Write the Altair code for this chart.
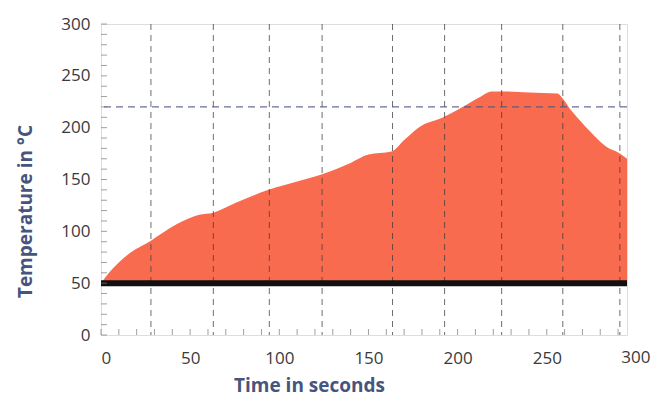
import altair as alt
import pandas as pd

# Temperature profile (time in s, temperature in °C)
time_s = [0, 4.5, 14.6, 28, 42.6, 55, 63, 75, 94, 110, 124, 140, 150, 163, 170, 178,
          192, 205, 212, 219, 224, 240, 256, 259, 264, 268, 275, 283, 291, 295]
temp_c = [50, 60, 77, 91, 107, 116, 118, 127, 140, 148, 155, 166, 174, 177, 188, 200,
          210, 222, 229, 235, 235, 234, 233, 228, 216, 208, 195, 182, 175, 170]
base_temp = 50
ref_temp = 220
vlines = [28, 63, 94.4, 124, 163.5, 192.7, 224.7, 259, 291]
x_ticks = [0, 50, 100, 150, 200, 250, 300]
y_ticks = [0, 50, 100, 150, 200, 250, 300]
minor_x = list(range(0, 300, 10))
minor_y = list(range(0, 301, 10))
x_max = 295
y_max = 300

W, H = 526, 311
FONT = "Open Sans"
LABEL_COLOR = "#3a3a3a"
TITLE_COLOR = "#45557d"
LABEL_SIZE = 17
TITLE_SIZE = 19

df = pd.DataFrame({"t": time_s, "temp": temp_c})
df["base"] = base_temp

xs = alt.Scale(domain=[0, x_max], nice=False, zero=False)
ys = alt.Scale(domain=[0, y_max], nice=False)

area = alt.Chart(df).mark_area(color="#f96b4f", interpolate="monotone", opacity=1).encode(
    x=alt.X("t:Q", scale=xs,
            axis=alt.Axis(values=x_ticks, title="Time in seconds", grid=False, domain=False,
                          ticks=False, tickSize=0, labelPadding=15, labelFont=FONT,
                          labelFontSize=LABEL_SIZE, labelColor=LABEL_COLOR, titleFont=FONT,
                          titleFontSize=TITLE_SIZE, titleFontWeight="bold", titleColor=TITLE_COLOR,
                          titleX=208, titleY=50, titleBaseline="middle")),
    y=alt.Y("temp:Q", scale=ys,
            axis=alt.Axis(values=y_ticks, title="Temperature in °C", grid=False, domain=False,
                          ticks=False, tickSize=0, labelPadding=11, labelFont=FONT,
                          labelFontSize=LABEL_SIZE, labelColor=LABEL_COLOR, titleFont=FONT,
                          titleFontSize=TITLE_SIZE, titleFontWeight="bold", titleColor=TITLE_COLOR,
                          titleX=-76, titleY=187, titleBaseline="middle")),
    y2="base:Q",
)

base_df = pd.DataFrame({"t": [0], "t2": [x_max], "v": [base_temp]})
base_line = alt.Chart(base_df).mark_rule(color="#111111", strokeWidth=6).encode(
    x=alt.X("t:Q", scale=xs), x2="t2:Q", y=alt.Y("v:Q", scale=ys))

vl_df = pd.DataFrame({"t": vlines})
vgrid = alt.Chart(vl_df).mark_rule(color="#3c3c3c", strokeWidth=1, strokeDash=[6, 5],
                                   opacity=0.75).encode(x=alt.X("t:Q", scale=xs))

ref_df = pd.DataFrame({"v": [ref_temp]})
hline = alt.Chart(ref_df).mark_rule(color="#4a5580", strokeWidth=1.2, strokeDash=[7, 5],
                                    opacity=0.85).encode(y=alt.Y("v:Q", scale=ys))

mx_df = pd.DataFrame({"t": minor_x})
mticks_x = alt.Chart(mx_df).mark_tick(color="#777777", thickness=1, size=6, yOffset=-3).encode(
    x=alt.X("t:Q", scale=xs), y=alt.value(H))

my_df = pd.DataFrame({"v": minor_y})
mticks_y = alt.Chart(my_df).mark_tick(color="#777777", thickness=1, size=6, xOffset=3).encode(
    y=alt.Y("v:Q", scale=ys), x=alt.value(0))

extra_df = pd.DataFrame({"t": [v for v in x_ticks if v > x_max]})
extra_lbl = alt.Chart(extra_df).mark_text(font=FONT, fontSize=LABEL_SIZE, color=LABEL_COLOR,
                                          baseline="top", dy=15).encode(
    x=alt.X("t:Q", scale=xs), y=alt.value(H), text=alt.Text("t:Q"))

chart = alt.layer(area, vgrid, hline, base_line, mticks_x, mticks_y, extra_lbl).properties(
    width=W, height=H,
    autosize=alt.AutoSizeParams(type="none"),
    padding={"left": 101, "top": 24, "right": 27, "bottom": 61},
).configure_view(stroke="#8c8c8c", strokeWidth=1.5).configure(background="white")

chart.save("out.html", embed_options={"renderer": "svg", "actions": False})
